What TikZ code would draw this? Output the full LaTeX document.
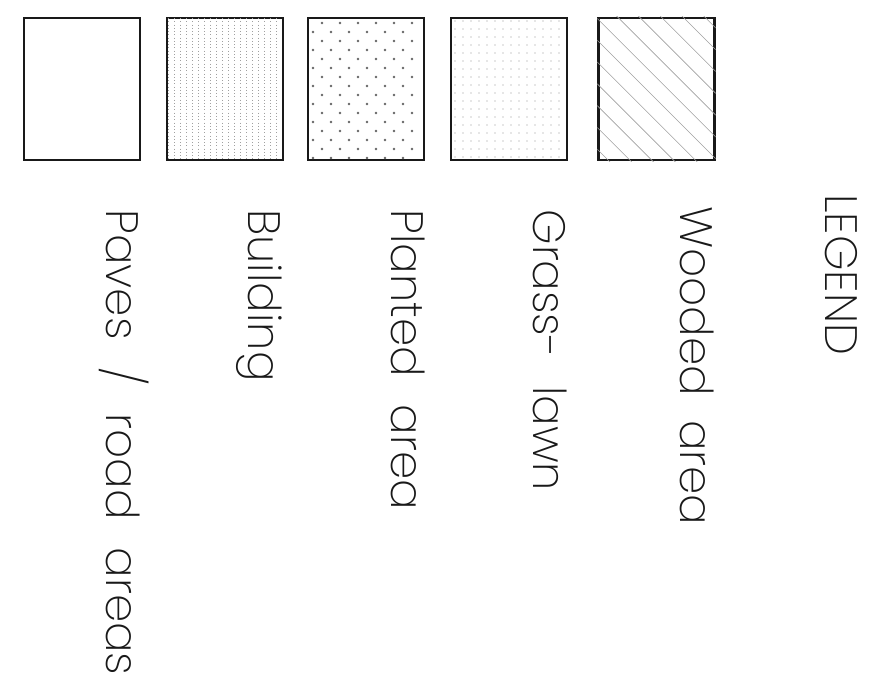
\documentclass[tikz,border=0pt]{standalone}
\usepackage{fontspec}
\setmainfont{Poppins ExtraLight}
\usepackage{xcolor}
\usepackage{tikz}
\usetikzlibrary{positioning}
\definecolor{inkblack}{RGB}{25,25,25}
\definecolor{hatchgrey}{RGB}{160,160,160}
\definecolor{dotgrey}{RGB}{100,100,100}
\newcommand{\legendfont}{\fontsize{34pt}{40pt}\selectfont\spaceskip=21pt\relax}
\newcommand{\narrowfont}{\fontsize{34pt}{40pt}\selectfont\spaceskip=18pt\relax}
\tikzset{
  legendbox/.style={
    rectangle,
    draw=inkblack,
    line width=1.6pt,
    minimum width=87pt,
    minimum height=106.5pt,
    inner sep=0pt
  },
  legendlabel/.style={
    anchor=base west,
    rotate=-90,
    inner sep=0pt,
    text=inkblack,
    font=\legendfont
  },
  hatchline/.style={
    draw=hatchgrey,
    line width=0.45pt
  }
}

\begin{document}
\begin{tikzpicture}[x=0.75pt, y=-0.75pt]
\useasboundingbox (0,0) rectangle (894,693);

% the five sample boxes
\node[legendbox] (paved) at (82,89) {};
\node[legendbox, right=18.75pt of paved] (building) {};
\node[legendbox, right=17.25pt of building] (planted) {};
\node[legendbox, right=18.75pt of planted] (grass) {};
\node[legendbox, right=21.75pt of grass] (wooded) {};

% fills
\begin{scope}
  \clip (building.south west) rectangle (building.north east);
  \foreach \x in {168,174,...,280}
    \draw[hatchline, dotted] (\x,18) -- (\x,160);
\end{scope}
\begin{scope}
  \clip (planted.south west) rectangle (planted.north east);
  \foreach \r in {0,...,15}
    \foreach \c in {-1,...,5}
      \fill[dotgrey] ({322-9*mod(\r,2)+18*\c},{23+9*\r}) circle (1.1pt);
\end{scope}
\begin{scope}
  \clip (grass.south west) rectangle (grass.north east);
  \foreach \r in {0,...,17}
    \foreach \c in {0,...,14}
      \fill[dotgrey!70] ({447+8*\c},{21+8*\r}) circle (0.45pt);
\end{scope}
\begin{scope}
  \clip (wooded.south west) rectangle (wooded.north east);
  \foreach \k in {-7,...,6}
    \draw[hatchline] (589,{32+21.8*\k}) -- ++(170,170);
\end{scope}

% labels
\node[legendlabel] (pavedtxt) at ([xshift=63pt, yshift=-36pt]paved.south west) {Paves / road areas};
\node[legendlabel] (buildingtxt) at ([xshift=62pt, yshift=-36pt]building.south west) {Building};
\node[legendlabel] (plantedtxt) at ([xshift=63pt, yshift=-36pt]planted.south west) {Planted area};
\node[legendlabel] (grasstxt) at ([xshift=62pt, yshift=-36pt]grass.south west) {Grass- lawn};
\node[legendlabel, font=\narrowfont] (woodedtxt) at ([xshift=62pt, yshift=-33.75pt]wooded.south west) {Wooded area};
\node[legendlabel] (title) at ([xshift=171pt, yshift=-24.75pt]wooded.south west) {LEGEND};
\end{tikzpicture}
\end{document}
